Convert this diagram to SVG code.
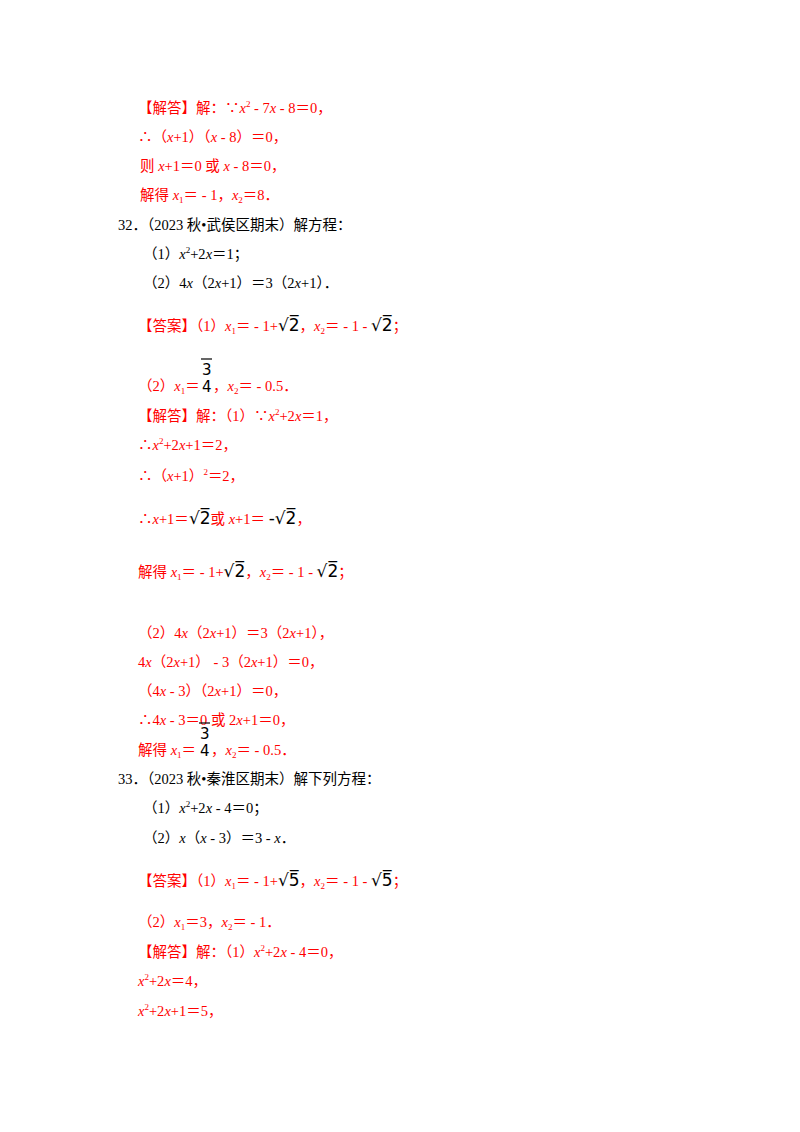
<svg xmlns="http://www.w3.org/2000/svg" width="800" height="1132" viewBox="0 0 800 1132">
<style>
text{font-family:"Liberation Serif","Noto Sans CJK SC",serif;font-size:14.5px;fill:#000}
.r{fill:#ff0000}
.i{font-style:italic}
.s{font-size:9px}
.q{font-family:"DejaVu Sans",sans-serif;font-size:17px;fill:#000}
.f{font-family:"DejaVu Sans",sans-serif;font-size:15px;fill:#000}
.ql{stroke:#000;stroke-width:1.2}
</style>
<rect width="800" height="1132" fill="#fff"/>
<text class="r" x="138" y="113">【解答】解：∵<tspan class="i">x</tspan><tspan class="s" dy="-6">2</tspan><tspan dy="6"> - 7</tspan><tspan class="i">x</tspan> - 8＝0，</text>
<text class="r" x="138" y="142">∴（<tspan class="i">x</tspan>+1）（<tspan class="i">x</tspan> - 8）＝0，</text>
<text class="r" x="140" y="171">则 <tspan class="i">x</tspan>+1＝0 或 <tspan class="i">x</tspan> - 8＝0，</text>
<text class="r" x="140" y="200">解得 <tspan class="i">x</tspan><tspan class="s" dy="3">1</tspan><tspan dy="-3">＝ - 1，</tspan><tspan class="i">x</tspan><tspan class="s" dy="3">2</tspan><tspan dy="-3">＝8．</tspan></text>
<text x="118" y="230">32．（2023 秋•武侯区期末）解方程：</text>
<text x="143" y="259">（1）<tspan class="i">x</tspan><tspan class="s" dy="-6">2</tspan><tspan dy="6">+2</tspan><tspan class="i">x</tspan>＝1；</text>
<text x="143" y="288">（2）4<tspan class="i">x</tspan>（2<tspan class="i">x</tspan>+1）＝3（2<tspan class="i">x</tspan>+1）．</text>

<text class="r" x="138" y="331">【答案】（1）<tspan class="i">x</tspan><tspan class="s" dy="3">1</tspan><tspan dy="-3">＝ - 1+</tspan><tspan class="q">√2̅</tspan>，<tspan class="i">x</tspan><tspan class="s" dy="3">2</tspan><tspan dy="-3">＝ - 1 - </tspan><tspan class="q">√2̅</tspan>；</text>
<text class="r" x="138" y="391">（2）<tspan class="i">x</tspan><tspan class="s" dy="3">1</tspan><tspan dy="-3">＝</tspan></text>
<line class="ql" x1="201" y1="359" x2="212" y2="359"/>
<text class="f" x="202" y="375">3</text><text class="f" x="202" y="392">4</text>
<text class="r" x="213" y="391">，<tspan class="i">x</tspan><tspan class="s" dy="3">2</tspan><tspan dy="-3">＝ - 0.5．</tspan></text>

<text class="r" x="138" y="421">【解答】解：（1）∵<tspan class="i">x</tspan><tspan class="s" dy="-6">2</tspan><tspan dy="6">+2</tspan><tspan class="i">x</tspan>＝1，</text>
<text class="r" x="138" y="450">∴<tspan class="i">x</tspan><tspan class="s" dy="-6">2</tspan><tspan dy="6">+2</tspan><tspan class="i">x</tspan>+1＝2，</text>
<text class="r" x="138" y="481">∴（<tspan class="i">x</tspan>+1）<tspan class="s" dy="-6">2</tspan><tspan dy="6">＝2，</tspan></text>
<text class="r" x="138" y="524">∴<tspan class="i">x</tspan>+1＝<tspan class="q">√2̅</tspan>或 <tspan class="i">x</tspan>+1＝ <tspan class="q">-√2̅</tspan>，</text>
<text class="r" x="138" y="577">解得 <tspan class="i">x</tspan><tspan class="s" dy="3">1</tspan><tspan dy="-3">＝ - 1+</tspan><tspan class="q">√2̅</tspan>，<tspan class="i">x</tspan><tspan class="s" dy="3">2</tspan><tspan dy="-3">＝ - 1 - </tspan><tspan class="q">√2̅</tspan>；</text>

<text class="r" x="138" y="638">（2）4<tspan class="i">x</tspan>（2<tspan class="i">x</tspan>+1）＝3（2<tspan class="i">x</tspan>+1），</text>
<text class="r" x="138" y="667">4<tspan class="i">x</tspan>（2<tspan class="i">x</tspan>+1） - 3（2<tspan class="i">x</tspan>+1）＝0，</text>
<text class="r" x="138" y="696">（4<tspan class="i">x</tspan> - 3）（2<tspan class="i">x</tspan>+1）＝0，</text>
<text class="r" x="138" y="725">∴4<tspan class="i">x</tspan> - 3＝0 或 2<tspan class="i">x</tspan>+1＝0，</text>
<text class="r" x="138" y="755">解得 <tspan class="i">x</tspan><tspan class="s" dy="3">1</tspan><tspan dy="-3">＝</tspan></text>
<line class="ql" x1="199" y1="723" x2="210" y2="723"/>
<text class="f" x="200" y="739">3</text><text class="f" x="200" y="756">4</text>
<text class="r" x="211" y="755">，<tspan class="i">x</tspan><tspan class="s" dy="3">2</tspan><tspan dy="-3">＝ - 0.5．</tspan></text>

<text x="118" y="784">33．（2023 秋•秦淮区期末）解下列方程：</text>
<text x="143" y="813">（1）<tspan class="i">x</tspan><tspan class="s" dy="-6">2</tspan><tspan dy="6">+2</tspan><tspan class="i">x</tspan> - 4＝0；</text>
<text x="143" y="843">（2）<tspan class="i">x</tspan>（<tspan class="i">x</tspan> - 3）＝3 - <tspan class="i">x</tspan>．</text>

<text class="r" x="138" y="886">【答案】（1）<tspan class="i">x</tspan><tspan class="s" dy="3">1</tspan><tspan dy="-3">＝ - 1+</tspan><tspan class="q">√5̅</tspan>，<tspan class="i">x</tspan><tspan class="s" dy="3">2</tspan><tspan dy="-3">＝ - 1 - </tspan><tspan class="q">√5̅</tspan>；</text>
<text class="r" x="138" y="927">（2）<tspan class="i">x</tspan><tspan class="s" dy="3">1</tspan><tspan dy="-3">＝3，</tspan><tspan class="i">x</tspan><tspan class="s" dy="3">2</tspan><tspan dy="-3">＝ - 1．</tspan></text>
<text class="r" x="138" y="957">【解答】解：（1）<tspan class="i">x</tspan><tspan class="s" dy="-6">2</tspan><tspan dy="6">+2</tspan><tspan class="i">x</tspan> - 4＝0，</text>
<text class="r" x="138" y="986"><tspan class="i">x</tspan><tspan class="s" dy="-6">2</tspan><tspan dy="6">+2</tspan><tspan class="i">x</tspan>＝4，</text>
<text class="r" x="138" y="1016"><tspan class="i">x</tspan><tspan class="s" dy="-6">2</tspan><tspan dy="6">+2</tspan><tspan class="i">x</tspan>+1＝5，</text>
</svg>
